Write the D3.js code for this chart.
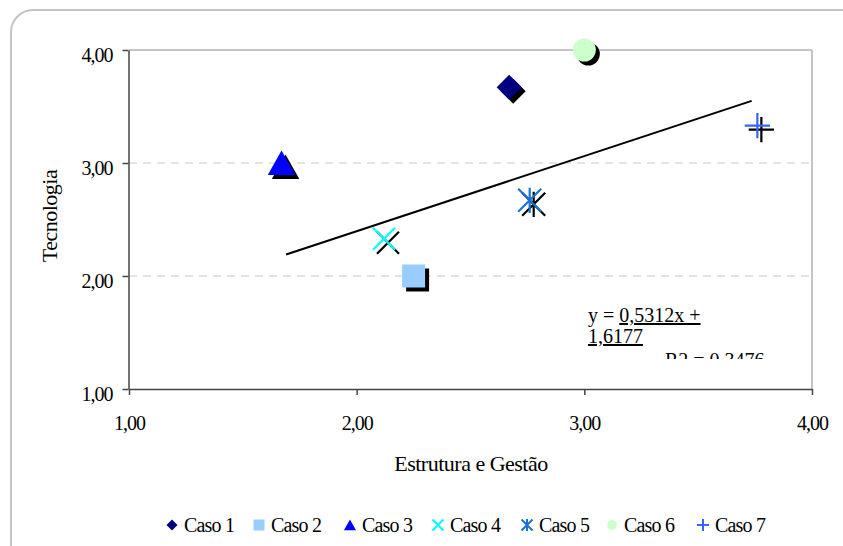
<!DOCTYPE html>
<html>
<head>
<meta charset="utf-8">
<script src="https://cdn.jsdelivr.net/npm/d3@7"></script>
<style>
  html, body { margin: 0; padding: 0; background: #fff; }
  svg { display: block; }
  svg text { font-family: "Liberation Serif", "DejaVu Serif", serif !important; fill: #000; }
</style>
</head>
<body>
<svg id="chart" width="843" height="546" font-family="Liberation Serif"></svg>
<script>
// ---- data ----
const categories = ["Caso 1", "Caso 2", "Caso 3", "Caso 4", "Caso 5", "Caso 6", "Caso 7"];
const xValues = [2.67, 2.25, 1.67, 2.12, 2.76, 3.00, 3.76];
const yValues = [3.67, 2.00, 3.00, 2.33, 2.67, 4.00, 3.33];
const tickValues = [1, 2, 3, 4];
const tickLabels = ["1,00", "2,00", "3,00", "4,00"];
const trendX = [1.69, 3.735];
const trendY = [2.19, 3.55];
const equationLines = ["y = ", "0,5312x +", "1,6177", "R2 = 0,3476"];
const xTitle = "Estrutura e Gestão";
const yTitle = "Tecnologia";

// ---- styles ----
const markerColors = ["#000080", "#99ccff", "#0000ff", "#00ffff", "#1a73d0", "#ccffcc", "#3366ff"];
const markerShapes = ["diamond", "square", "triangle", "x", "asterisk", "circle", "plus"];
const FONT = "Liberation Serif";

const svg = d3.select("#chart");
const W = 843, H = 546;

// outer rounded frame
svg.append("rect").attr("x", 11).attr("y", 10).attr("width", W + 20).attr("height", H + 20)
  .attr("rx", 22).attr("ry", 22).attr("fill", "#fff").attr("stroke", "#c4c4c4").attr("stroke-width", 2);

const x = d3.scaleLinear().domain([1, 4]).range([129, 812]);
const y = d3.scaleLinear().domain([1, 4]).range([389, 50]);

// gridlines
svg.append("g").selectAll("line").data(tickValues.filter(v => v > 1 && v < 4)).join("line")
  .attr("x1", x(1)).attr("x2", x(4)).attr("y1", d => y(d)).attr("y2", d => y(d))
  .attr("stroke", "#c8c8c8").attr("stroke-width", 1).attr("stroke-dasharray", "8,6");

// top and right borders
svg.append("line").attr("x1", x(1)).attr("x2", x(4)).attr("y1", y(4)).attr("y2", y(4))
  .attr("stroke", "#c4c4c4").attr("stroke-width", 2);
svg.append("line").attr("x1", x(4)).attr("x2", x(4)).attr("y1", y(4)).attr("y2", y(1))
  .attr("stroke", "#c4c4c4").attr("stroke-width", 2);

const fmt = d => tickLabels[tickValues.indexOf(d)];

// y axis
const gy = svg.append("g").attr("transform", `translate(${x(1) - 0.5},0)`)
  .call(d3.axisLeft(y).tickValues(tickValues).tickFormat(fmt).tickSize(6).tickSizeOuter(0))
  .attr("font-family", FONT).attr("font-size", 20);
gy.select(".domain").attr("stroke", "#444").attr("stroke-width", 1.5);
gy.selectAll(".tick line").attr("stroke", "#444").attr("stroke-width", 1.5);
gy.selectAll(".tick text").attr("x", -16).attr("dy", "0.55em").attr("letter-spacing", "-1");

// x axis
const gx = svg.append("g").attr("transform", `translate(0,${y(1)})`)
  .call(d3.axisBottom(x).tickValues(tickValues).tickFormat(fmt).tickSize(6).tickSizeOuter(0))
  .attr("font-family", FONT).attr("font-size", 20);
gx.select(".domain").attr("stroke", "#444").attr("stroke-width", 1.5);
gx.selectAll(".tick line").attr("stroke", "#444").attr("stroke-width", 1.5);
gx.selectAll(".tick text").attr("y", 41).attr("dy", "0").attr("letter-spacing", "-1");

// axis titles
svg.append("text").attr("x", 471).attr("y", 471).attr("text-anchor", "middle")
  .attr("font-family", FONT).attr("font-size", 22).attr("letter-spacing", "-0.5").text(xTitle);
svg.append("text").attr("transform", "translate(57,216) rotate(-90)").attr("text-anchor", "middle")
  .attr("font-family", FONT).attr("font-size", 22).attr("letter-spacing", "-0.5").text(yTitle);

// marker path generator
function markerPath(shape, s) {
  switch (shape) {
    case "diamond": return `M0,${-s}L${s},0L0,${s}L${-s},0Z`;
    case "square": return `M${-s},${-s}H${s}V${s}H${-s}Z`;
    case "triangle": return `M0,${-s}L${s * 1.1},${s * 0.95}L${-s * 1.1},${s * 0.95}Z`;
    case "x": return `M${-s},${-s}L${s},${s}M${s},${-s}L${-s},${s}`;
    case "asterisk": return `M${-s},${-s}L${s},${s}M${s},${-s}L${-s},${s}M0,${-s * 1.1}V${s * 1.1}`;
    case "plus": return `M${-s * 1.1},0H${s * 1.1}M0,${-s * 1.1}V${s * 1.1}`;
    case "circle": return d3.arc()({innerRadius: 0, outerRadius: s, startAngle: 0, endAngle: 2 * Math.PI});
  }
}
const isLine = sh => sh === "x" || sh === "asterisk" || sh === "plus";
const sizes = {diamond: 12.5, square: 11.5, triangle: 12.5, x: 11, asterisk: 11.5, plus: 11.5, circle: 11.5};

const pts = categories.map((c, i) => ({c, x: xValues[i], y: yValues[i], shape: markerShapes[i], color: markerColors[i]}));

// trendline
svg.append("path").datum(trendX.map((v, i) => [v, trendY[i]]))
  .attr("d", d3.line().x(d => x(d[0])).y(d => y(d[1])))
  .attr("fill", "none").attr("stroke", "#000").attr("stroke-width", 2);

// shadows
svg.append("g").selectAll("path").data(pts).join("path")
  .attr("transform", d => `translate(${x(d.x) + 4},${y(d.y) + 4})`)
  .attr("d", d => markerPath(d.shape, sizes[d.shape]))
  .attr("fill", d => isLine(d.shape) ? "none" : "#000")
  .attr("stroke", d => isLine(d.shape) ? "#000" : "none")
  .attr("stroke-width", 2.2);

// markers
svg.append("g").selectAll("path").data(pts).join("path")
  .attr("transform", d => `translate(${x(d.x)},${y(d.y)})`)
  .attr("d", d => markerPath(d.shape, sizes[d.shape]))
  .attr("fill", d => isLine(d.shape) ? "none" : d.color)
  .attr("stroke", d => isLine(d.shape) ? d.color : "none")
  .attr("stroke-width", 2.2);

// equation text (clipped)
svg.append("clipPath").attr("id", "eqclip").append("rect")
  .attr("x", 580).attr("y", 300).attr("width", 200).attr("height", 59);
const eq = svg.append("g").attr("clip-path", "url(#eqclip)")
  .attr("font-family", FONT).attr("font-size", 20);
const t1 = eq.append("text").attr("x", 588).attr("y", 322).attr("letter-spacing", "0");
t1.append("tspan").text(equationLines[0]);
t1.append("tspan").attr("text-decoration", "underline").text(equationLines[1]);
eq.append("text").attr("x", 588).attr("y", 343).attr("text-decoration", "underline")
  .text(equationLines[2]);
eq.append("text").attr("x", 665).attr("y", 367).text(equationLines[3]);

// legend
const legendX = [172, 259, 350, 438, 527, 612, 703];
const lg = svg.append("g").attr("font-family", FONT).attr("font-size", 20);
const items = lg.selectAll("g").data(pts).join("g")
  .attr("transform", (d, i) => `translate(${legendX[i]},525)`);
items.append("path").attr("d", d => markerPath(d.shape, d.shape === "circle" ? 5 : 5.5))
  .attr("fill", d => isLine(d.shape) ? "none" : d.color)
  .attr("stroke", d => isLine(d.shape) ? d.color : "none").attr("stroke-width", 2);
items.append("text").attr("x", 12).attr("y", 6.5)
  .attr("letter-spacing", "-0.8").text(d => d.c);
</script>
</body>
</html>
